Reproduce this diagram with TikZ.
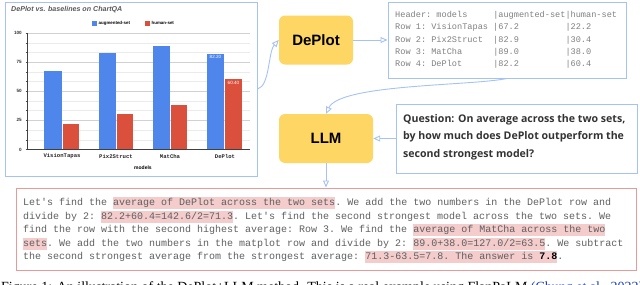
\documentclass[tikz,border=0pt]{standalone}
\usepackage{fontspec}
\setmainfont{Liberation Sans}
\setmonofont{Liberation Mono}
\newfontfamily\qfont{Open Sans}
\newfontfamily\capfont{Liberation Serif}
\usetikzlibrary{arrows.meta}
\definecolor{cblue}{HTML}{4F86EC}
\definecolor{cred}{HTML}{DB4F3D}
\definecolor{lblue}{HTML}{A4C2F4}
\definecolor{pinkb}{HTML}{EA9999}
\definecolor{hlc}{HTML}{F4CCCC}
\definecolor{yel}{HTML}{FDD663}
\definecolor{tgray}{HTML}{5F5F5F}
\definecolor{capblue}{HTML}{1A3FB0}
\newcommand\hl[1]{{\setlength{\fboxsep}{0pt}\colorbox{hlc}{\rule[-3.4pt]{0pt}{12pt}#1}}}
\tikzset{
  frame/.style={draw=lblue, line width=1pt, inner sep=0pt},
  pinkframe/.style={draw=pinkb, line width=1pt, inner sep=0pt},
  yelbox/.style={fill=yel, draw=none, rounded corners=6pt, inner sep=0pt, font=\fontsize{15}{15}\selectfont\bfseries},
  conn/.style={draw=lblue, line width=0.9pt, -{Triangle[open,length=7pt,width=6pt]}},
  outline/.style={anchor=base west, inner sep=0pt, font=\ttfamily\fontsize{10}{12}\selectfont, text=tgray},
  tabline/.style={anchor=base west, inner sep=0pt, font=\ttfamily\fontsize{8.6}{10}\selectfont, text=tgray!80},
  qline/.style={anchor=base west, inner sep=0pt, font=\qfont\bfseries\fontsize{10.6}{12}\selectfont, text=black!80},
  ylab/.style={anchor=east, inner sep=0pt, font=\bfseries\fontsize{4.6}{5}\selectfont, text=black!80},
  xlab/.style={anchor=center, inner sep=0pt, font=\ttfamily\bfseries\fontsize{5.6}{6}\selectfont, text=black!85},
  vlab/.style={anchor=north, inner sep=0pt, font=\fontsize{4.6}{5}\selectfont, text=white},
}
\begin{document}
\begin{tikzpicture}[x=1pt,y=-1pt]
\useasboundingbox (0,0) rectangle (640,284);
% ---------------- chart ----------------
\node[frame, minimum width=252pt, minimum height=174pt] (chart) at (131,89) {};
\node[anchor=west, inner sep=0pt, font=\bfseries\itshape\fontsize{7.1}{8}\selectfont, text=black!65] (title) at (11,10) {DePlot vs. baselines on ChartQA};
\fill[cblue] (92,20.5) rectangle (97,25.5);
\node[anchor=west, inner sep=0pt, font=\bfseries\fontsize{4.4}{5}\selectfont] (lg1) at (98.5,23) {augmented-set};
\fill[cred] (145,20.5) rectangle (150,25.5);
\node[anchor=west, inner sep=0pt, font=\bfseries\fontsize{4.4}{5}\selectfont] (lg2) at (151.5,23) {human-set};
% grid
\foreach \v in {8.333,16.667,33.333,41.667,58.333,66.667,83.333,91.667}
  \draw[black!8, line width=0.4pt] (27,149.5-1.165*\v) -- (250,149.5-1.165*\v);
\foreach \v in {25,50,75,100}
  \draw[black!18, line width=0.5pt] (27,149.5-1.165*\v) -- (250,149.5-1.165*\v);
\foreach \v in {0,8.333,...,100}
  \draw[black!70, line width=0.4pt] (25.5,149.5-1.165*\v) -- (27,149.5-1.165*\v);
\foreach \v in {0,25,50,75,100}
  \node[ylab] at (22,149.5-1.165*\v) {\v};
% bars
\fill[cblue] (44,149.5) rectangle (61.5,71.2);
\fill[cred]  (62.5,149.5) rectangle (79,123.6);
\fill[cblue] (99,149.5) rectangle (116,52.9);
\fill[cred]  (117,149.5) rectangle (133,114.1);
\fill[cblue] (153,149.5) rectangle (170,45.8);
\fill[cred]  (171,149.5) rectangle (187,105.2);
\fill[cblue] (207,149.5) rectangle (224,53.7);
\fill[cred]  (225,149.5) rectangle (242,79.1);
\node[vlab] at (215.5,55.5) {82.20};
\node[vlab] at (233.5,81) {60.40};
% axes
\draw[black!75, line width=0.5pt] (27,33) -- (27,149.5) -- (250,149.5);
\node[xlab] at (62,156) {VisionTapas};
\node[xlab] at (116,156) {Pix2Struct};
\node[xlab] at (170,156) {MatCha};
\node[xlab] at (225,156) {DePlot};
\node[inner sep=0pt, font=\bfseries\fontsize{5}{5}\selectfont] at (143,168) {models};
% ---------------- boxes ----------------
\node[yelbox, minimum width=74pt, minimum height=49pt] (deplot) at (316,40) {DePlot};
\node[yelbox, minimum width=94pt, minimum height=49pt] (llm) at (326,138.5) {LLM};
\node[frame, minimum width=238pt, minimum height=76pt] (table) at (507,40) {};
\node[tabline] (t1) at (395,17.6) {Header:~models~~~~~|augmented-set|human-set};
\node[tabline] (t2) at (395,29.9) {Row~1:~VisionTapas~|67.2~~~~~~~~~|22.2};
\node[tabline] (t3) at (395,42.1) {Row~2:~Pix2Struct~~|82.9~~~~~~~~~|30.4};
\node[tabline] (t4) at (395,54.4) {Row~3:~MatCha~~~~~~|89.0~~~~~~~~~|38.0};
\node[tabline] (t5) at (395,66.6) {Row~4:~DePlot~~~~~~|82.2~~~~~~~~~|60.4};
\node[frame, minimum width=241pt, minimum height=69pt] (question) at (516.5,138.5) {};
\node[qline] (q1) at (403,122) {Question: On average across the two sets,};
\node[qline] (q2) at (403,139.5) {by how much does DePlot outperform the};
\node[qline] (q3) at (403,157) {second strongest model?};
\node[pinkframe, minimum width=620pt, minimum height=82pt] (output) at (326,229) {};
\node[outline] (o1) at (23,205.5) {Let's find the \hl{average of DePlot across the two sets}. We add the two numbers in the DePlot row and};
\node[outline] (o2) at (23,219.1) {divide by 2: \hl{82.2+60.4=142.6/2=71.3}. Let's find the second strongest model across the two sets. We};
\node[outline] (o3) at (23,232.7) {find the row with the second highest average: Row 3. We find the \hl{average of MatCha across the two}};
\node[outline] (o4) at (23,246.3) {\hl{sets}. We add the two numbers in the matplot row and divide by 2: \hl{89.0+38.0=127.0/2=63.5}. We subtract};
\node[outline] (o5) at (23,259.9) {the second strongest average from the strongest average: \hl{71.3-63.5=7.8. The answer is \textcolor{black}{\textbf{7.8}}}.};
% ---------------- connectors ----------------
\draw[conn] (chart.east) .. controls (270,86) and (268,52) .. (deplot.west);
\draw[conn] (deplot.east) -- (table.west);
\draw[conn] (table.south) .. controls (470,86) and (340,84) .. (llm.north);
\draw[conn] (question.west) -- (llm.east);
\draw[conn] (llm.south) -- (llm.south |- output.north);
% ---------------- caption (cut off by the lower edge, as in the reference) ----------------
\begin{scope}
\clip (0,0) rectangle (640,284);
\node[anchor=base west, inner sep=0pt, font=\capfont\fontsize{14}{15}\selectfont] (cap) at (1,291) {Figure 1: An illustration of the DePlot+LLM method. This is a real example using FlanPaLM \textcolor{capblue}{(Chung et al., 2022)}};
\end{scope}
\end{tikzpicture}
\end{document}
